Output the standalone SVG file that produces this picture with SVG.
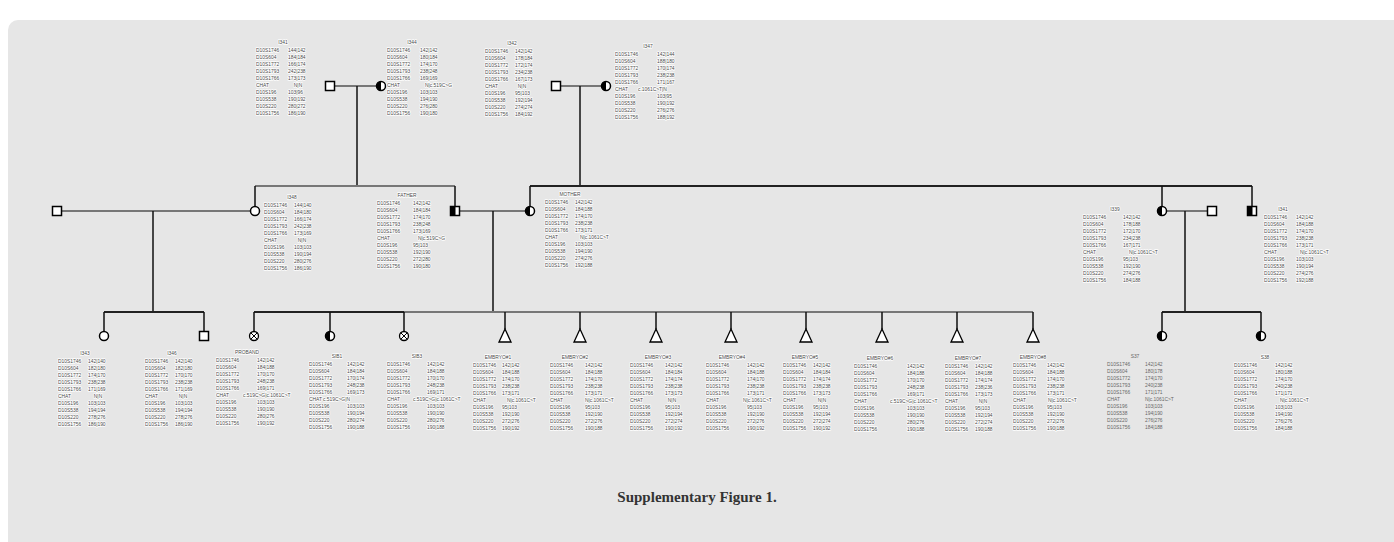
<svg xmlns="http://www.w3.org/2000/svg" xmlns:xlink="http://www.w3.org/1999/xlink" width="1394" height="542" viewBox="0 0 1394 542">
<style>
.t{font-family:"Liberation Sans",Arial,sans-serif;font-size:4.9px;fill:#4a4a4a;stroke:#fff;stroke-width:1.5px;paint-order:stroke;stroke-linejoin:round}
.p{font-family:"Liberation Sans",Arial,sans-serif;font-size:4.9px;fill:#666}
.m{text-anchor:middle}
.mar{stroke:#777;stroke-width:2;fill:none}
.sib{stroke:#222;stroke-width:2;fill:none}
.sibg{stroke:#777;stroke-width:2;fill:none}
.dsc{stroke:#111;stroke-width:1.5;fill:none}
.ttl{font-family:"Liberation Serif","Times New Roman",serif;font-size:15px;font-weight:bold;fill:#333;text-anchor:middle}
</style>
<defs>
<g id="sq"><rect x="-4.5" y="-4.5" width="9" height="9" fill="#fff" stroke="#000" stroke-width="1.5"/></g>
<g id="sqh"><rect x="-4.5" y="-4.5" width="9" height="9" fill="#fff"/><rect x="-4.5" y="-4.5" width="5" height="9" fill="#000"/><rect x="-4.5" y="-4.5" width="9" height="9" fill="none" stroke="#000" stroke-width="1.5"/></g>
<g id="ci"><circle r="4.5" fill="#fff" stroke="#000" stroke-width="1.5"/></g>
<g id="cih"><circle r="4.5" fill="#fff"/><path d="M0,-4.5 A4.5,4.5 0 0 0 0,4.5 Z" fill="#000"/><circle r="4.5" fill="none" stroke="#000" stroke-width="1.5"/></g>
<g id="cix"><circle r="4.5" fill="#fff" stroke="#000" stroke-width="1.3"/><path d="M-3.2,-3.2 L3.2,3.2 M-3.2,3.2 L3.2,-3.2" stroke="#000" stroke-width="1"/></g>
<g id="tri"><polygon points="0,-7 6,6 -6,6" fill="#fff" stroke="#000" stroke-width="1.3"/></g>
<text id="mk" class="t"><tspan x="0" y="8">D10S1746</tspan><tspan x="0" y="15">D10S604</tspan><tspan x="0" y="22">D10S1772</tspan><tspan x="0" y="29">D10S1793</tspan><tspan x="0" y="36">D10S1766</tspan><tspan x="0" y="43">CHAT</tspan><tspan x="0" y="50">D10S196</tspan><tspan x="0" y="57">D10S538</tspan><tspan x="0" y="64">D10S220</tspan><tspan x="0" y="71">D10S1756</tspan></text>
<text id="mkp" class="p"><tspan x="0" y="8">D10S1746</tspan><tspan x="0" y="15">D10S604</tspan><tspan x="0" y="22">D10S1772</tspan><tspan x="0" y="29">D10S1793</tspan><tspan x="0" y="36">D10S1766</tspan><tspan x="0" y="43">CHAT</tspan><tspan x="0" y="50">D10S196</tspan><tspan x="0" y="57">D10S538</tspan><tspan x="0" y="64">D10S220</tspan><tspan x="0" y="71">D10S1756</tspan></text>
</defs>
<rect x="0" y="0" width="1394" height="542" fill="#fff"/>
<rect x="8" y="20" width="1400" height="540" rx="10" fill="#e6e6e6"/>

<g id="connectors">
<path class="mar" d="M334.5,86 H376.5"/>
<path class="dsc" d="M357,86 V186"/>
<path class="mar" d="M560.5,86 H601.5"/>
<path class="dsc" d="M580,86 V186"/>
<path class="sibg" d="M255,186 H455"/>
<path class="dsc" d="M255,186 V206.5 M455,186 V206.5"/>
<path class="sib" d="M530,186 H1252"/>
<path class="dsc" d="M530,186 V206.5 M1162,186 V206.5 M1252,186 V206.5"/>
<path class="mar" d="M61.5,211 H250.5"/>
<path class="dsc" d="M153,211 V312"/>
<path class="sib" d="M104,312 H204"/>
<path class="dsc" d="M104,312 V331.5 M204,312 V331.5"/>
<path class="mar" d="M459.5,211 H525.5"/>
<path class="dsc" d="M493,211 V312"/>
<path class="sib" d="M254,312 H404"/>
<path class="sibg" d="M404,312 H1033"/>
<path class="dsc" d="M254,312 V331.5 M330,312 V331.5 M404,312 V331.5"/>
<path class="dsc" d="M505,312 V329 M580,312 V329 M656,312 V329 M731,312 V329 M806,312 V329 M882,312 V329 M957,312 V329 M1033,312 V329"/>
<path class="mar" d="M1166.5,211 H1207.5"/>
<path class="dsc" d="M1185,211 V312"/>
<path class="sib" d="M1162,312 H1261"/>
<path class="dsc" d="M1162,312 V331.5 M1261,312 V331.5"/>
</g>

<g id="n-I341"><use href="#sq" x="330" y="86"/>
<g transform="translate(256,43.5)"><text class="t m" x="27">I341</text><use href="#mk"/>
<text class="t"><tspan x="32" y="8">144|142</tspan><tspan x="32" y="15">184|184</tspan><tspan x="32" y="22">166|174</tspan><tspan x="32" y="29">242|238</tspan><tspan x="32" y="36">173|173</tspan><tspan x="32" y="50">103|96</tspan><tspan x="32" y="57">190|192</tspan><tspan x="32" y="64">280|272</tspan><tspan x="32" y="71">186|190</tspan></text>
<text class="t m" x="42" y="43">N|N</text></g></g>

<g id="n-I344"><use href="#cih" x="381" y="86"/>
<g transform="translate(387,43.5)"><text class="t m" x="25">I344</text><use href="#mk"/>
<text class="t"><tspan x="33" y="8">142|142</tspan><tspan x="33" y="15">180|184</tspan><tspan x="33" y="22">174|170</tspan><tspan x="33" y="29">238|248</tspan><tspan x="33" y="36">169|169</tspan><tspan x="33" y="50">103|103</tspan><tspan x="33" y="57">194|190</tspan><tspan x="33" y="64">276|280</tspan><tspan x="33" y="71">190|180</tspan></text>
<text class="t" x="38" y="43">N|c.519C&gt;G</text></g></g>

<g id="n-I342"><use href="#sq" x="556" y="86"/>
<g transform="translate(485,45)"><text class="t m" x="27">I342</text><use href="#mk"/>
<text class="t"><tspan x="30" y="8">142|142</tspan><tspan x="30" y="15">178|184</tspan><tspan x="30" y="22">172|174</tspan><tspan x="30" y="29">234|238</tspan><tspan x="30" y="36">167|173</tspan><tspan x="30" y="50">95|103</tspan><tspan x="30" y="57">192|194</tspan><tspan x="30" y="64">274|274</tspan><tspan x="30" y="71">184|192</tspan></text>
<text class="t m" x="37" y="43">N|N</text></g></g>

<g id="n-I347"><use href="#cih" x="606" y="86"/>
<g transform="translate(615,48)"><text class="t m" x="33">I347</text><use href="#mk"/>
<text class="t"><tspan x="42" y="8">142|144</tspan><tspan x="42" y="15">188|180</tspan><tspan x="42" y="22">170|174</tspan><tspan x="42" y="29">238|238</tspan><tspan x="42" y="36">171|167</tspan><tspan x="42" y="50">103|95</tspan><tspan x="42" y="57">190|192</tspan><tspan x="42" y="64">276|276</tspan><tspan x="42" y="71">188|192</tspan></text>
<text class="t" x="23" y="43">c.1061C&gt;T|N</text></g></g>

<g id="n-spouse1"><use href="#sq" x="57" y="211"/></g>

<g id="n-I348"><use href="#ci" x="255" y="211"/>
<g transform="translate(264,198.5)"><text class="t m" x="28">I348</text><use href="#mk"/>
<text class="t"><tspan x="30" y="8">144|140</tspan><tspan x="30" y="15">184|180</tspan><tspan x="30" y="22">166|174</tspan><tspan x="30" y="29">242|238</tspan><tspan x="30" y="36">173|169</tspan><tspan x="30" y="50">103|103</tspan><tspan x="30" y="57">190|194</tspan><tspan x="30" y="64">280|276</tspan><tspan x="30" y="71">186|190</tspan></text>
<text class="t m" x="38" y="43">N|N</text></g></g>

<g id="n-FATHER"><use href="#sqh" x="455" y="211"/>
<g transform="translate(377,196.5)"><text class="t m" x="30">FATHER</text><use href="#mk"/>
<text class="t"><tspan x="36" y="8">142|142</tspan><tspan x="36" y="15">184|184</tspan><tspan x="36" y="22">174|170</tspan><tspan x="36" y="29">238|248</tspan><tspan x="36" y="36">173|169</tspan><tspan x="36" y="50">95|103</tspan><tspan x="36" y="57">192|190</tspan><tspan x="36" y="64">272|280</tspan><tspan x="36" y="71">190|180</tspan></text>
<text class="t" x="41" y="43">N|c.519C&gt;G</text></g></g>

<g id="n-MOTHER"><use href="#cih" x="530" y="211"/>
<g transform="translate(545,195.5)"><text class="t m" x="25">MOTHER</text><use href="#mk"/>
<text class="t"><tspan x="30" y="8">142|142</tspan><tspan x="30" y="15">184|188</tspan><tspan x="30" y="22">174|170</tspan><tspan x="30" y="29">238|238</tspan><tspan x="30" y="36">173|171</tspan><tspan x="30" y="50">103|103</tspan><tspan x="30" y="57">194|190</tspan><tspan x="30" y="64">274|276</tspan><tspan x="30" y="71">192|188</tspan></text>
<text class="t" x="35" y="43">N|c.1061C&gt;T</text></g></g>

<g id="n-I339"><use href="#cih" x="1162" y="211"/>
<g transform="translate(1083,210.5)"><text class="t m" x="32">I339</text><use href="#mk"/>
<text class="t"><tspan x="40" y="8">142|142</tspan><tspan x="40" y="15">178|188</tspan><tspan x="40" y="22">172|170</tspan><tspan x="40" y="29">234|238</tspan><tspan x="40" y="36">167|171</tspan><tspan x="40" y="50">95|103</tspan><tspan x="40" y="57">192|190</tspan><tspan x="40" y="64">274|276</tspan><tspan x="40" y="71">184|188</tspan></text>
<text class="t" x="46" y="43">N|c.1061C&gt;T</text></g></g>

<g id="n-spouse2"><use href="#sq" x="1212" y="211"/></g>

<g id="n-I341b"><use href="#sqh" x="1252" y="211"/>
<g transform="translate(1264,210.5)"><text class="t m" x="19">I341</text><use href="#mk"/>
<text class="t"><tspan x="32" y="8">142|142</tspan><tspan x="32" y="15">184|188</tspan><tspan x="32" y="22">174|170</tspan><tspan x="32" y="29">238|238</tspan><tspan x="32" y="36">173|171</tspan><tspan x="32" y="50">103|103</tspan><tspan x="32" y="57">190|194</tspan><tspan x="32" y="64">274|276</tspan><tspan x="32" y="71">192|188</tspan></text>
<text class="t" x="36" y="43">N|c.1061C&gt;T</text></g></g>

<g id="n-I343"><use href="#ci" x="104" y="336"/>
<g transform="translate(58,354.5)"><text class="t m" x="27">I343</text><use href="#mk"/>
<text class="t"><tspan x="30" y="8">142|140</tspan><tspan x="30" y="15">182|180</tspan><tspan x="30" y="22">174|170</tspan><tspan x="30" y="29">238|238</tspan><tspan x="30" y="36">171|169</tspan><tspan x="30" y="50">103|103</tspan><tspan x="30" y="57">194|194</tspan><tspan x="30" y="64">278|276</tspan><tspan x="30" y="71">186|190</tspan></text>
<text class="t m" x="40" y="43">N|N</text></g></g>

<g id="n-I346"><use href="#sq" x="204" y="336"/>
<g transform="translate(145,354.5)"><text class="t m" x="27">I346</text><use href="#mk"/>
<text class="t"><tspan x="30" y="8">142|140</tspan><tspan x="30" y="15">182|180</tspan><tspan x="30" y="22">170|170</tspan><tspan x="30" y="29">238|238</tspan><tspan x="30" y="36">171|169</tspan><tspan x="30" y="50">103|103</tspan><tspan x="30" y="57">194|194</tspan><tspan x="30" y="64">278|276</tspan><tspan x="30" y="71">186|190</tspan></text>
<text class="t m" x="38" y="43">N|N</text></g></g>

<g id="n-PROBAND"><use href="#cix" x="254" y="336"/>
<g transform="translate(216,354)"><text class="t m" x="31">PROBAND</text><use href="#mk"/>
<text class="t"><tspan x="41" y="8">142|142</tspan><tspan x="41" y="15">184|188</tspan><tspan x="41" y="22">170|170</tspan><tspan x="41" y="29">248|238</tspan><tspan x="41" y="36">169|171</tspan><tspan x="41" y="50">103|103</tspan><tspan x="41" y="57">190|190</tspan><tspan x="41" y="64">280|276</tspan><tspan x="41" y="71">190|192</tspan></text>
<text class="t" x="27" y="43">c.519C&gt;G|c.1061C&gt;T</text></g></g>

<g id="n-SIB1"><use href="#cih" x="330" y="336"/>
<g transform="translate(309,357.5)"><text class="t m" x="28">SIB1</text><use href="#mk"/>
<text class="t"><tspan x="38" y="8">142|142</tspan><tspan x="38" y="15">184|184</tspan><tspan x="38" y="22">170|174</tspan><tspan x="38" y="29">248|238</tspan><tspan x="38" y="36">169|173</tspan><tspan x="38" y="50">103|103</tspan><tspan x="38" y="57">190|194</tspan><tspan x="38" y="64">280|274</tspan><tspan x="38" y="71">190|188</tspan></text>
<text class="t" x="14" y="43">c.519C&gt;G|N</text></g></g>

<g id="n-SIB3"><use href="#cix" x="404" y="336"/>
<g transform="translate(387,358)"><text class="t m" x="30">SIB3</text><use href="#mk"/>
<text class="t"><tspan x="40" y="8">142|142</tspan><tspan x="40" y="15">184|188</tspan><tspan x="40" y="22">170|170</tspan><tspan x="40" y="29">248|238</tspan><tspan x="40" y="36">169|171</tspan><tspan x="40" y="50">103|103</tspan><tspan x="40" y="57">190|190</tspan><tspan x="40" y="64">280|276</tspan><tspan x="40" y="71">190|188</tspan></text>
<text class="t" x="26" y="43">c.519C&gt;G|c.1061C&gt;T</text></g></g>

<g id="n-E1"><use href="#tri" x="505" y="336"/>
<g transform="translate(473,358.5)"><text class="t m" x="25">EMBRYO#1</text><use href="#mk"/>
<text class="t"><tspan x="29" y="8">142|142</tspan><tspan x="29" y="15">184|188</tspan><tspan x="29" y="22">174|170</tspan><tspan x="29" y="29">238|238</tspan><tspan x="29" y="36">173|171</tspan><tspan x="29" y="50">95|103</tspan><tspan x="29" y="57">192|190</tspan><tspan x="29" y="64">272|276</tspan><tspan x="29" y="71">190|192</tspan></text>
<text class="t" x="34" y="43">N|c.1061C&gt;T</text></g></g>

<g id="n-E2"><use href="#tri" x="580" y="336"/>
<g transform="translate(550,358.5)"><text class="t m" x="25">EMBRYO#2</text><use href="#mk"/>
<text class="t"><tspan x="35" y="8">142|142</tspan><tspan x="35" y="15">184|188</tspan><tspan x="35" y="22">174|170</tspan><tspan x="35" y="29">238|238</tspan><tspan x="35" y="36">173|171</tspan><tspan x="35" y="50">95|103</tspan><tspan x="35" y="57">192|190</tspan><tspan x="35" y="64">272|276</tspan><tspan x="35" y="71">190|188</tspan></text>
<text class="t" x="35" y="43">N|c.1061C&gt;T</text></g></g>

<g id="n-E3"><use href="#tri" x="656" y="336"/>
<g transform="translate(630,358.5)"><text class="t m" x="28">EMBRYO#3</text><use href="#mk"/>
<text class="t"><tspan x="35" y="8">142|142</tspan><tspan x="35" y="15">184|184</tspan><tspan x="35" y="22">174|174</tspan><tspan x="35" y="29">238|238</tspan><tspan x="35" y="36">173|173</tspan><tspan x="35" y="50">95|103</tspan><tspan x="35" y="57">192|194</tspan><tspan x="35" y="64">272|274</tspan><tspan x="35" y="71">190|192</tspan></text>
<text class="t m" x="42" y="43">N|N</text></g></g>

<g id="n-E4"><use href="#tri" x="731" y="336"/>
<g transform="translate(706,358.5)"><text class="t m" x="26">EMBRYO#4</text><use href="#mk"/>
<text class="t"><tspan x="41" y="8">142|142</tspan><tspan x="41" y="15">184|188</tspan><tspan x="41" y="22">174|170</tspan><tspan x="41" y="29">238|238</tspan><tspan x="41" y="36">173|171</tspan><tspan x="41" y="50">95|103</tspan><tspan x="41" y="57">192|190</tspan><tspan x="41" y="64">272|276</tspan><tspan x="41" y="71">190|192</tspan></text>
<text class="t" x="37" y="43">N|c.1061C&gt;T</text></g></g>

<g id="n-E5"><use href="#tri" x="806" y="336"/>
<g transform="translate(783,358.5)"><text class="t m" x="22">EMBRYO#5</text><use href="#mk"/>
<text class="t"><tspan x="30" y="8">142|142</tspan><tspan x="30" y="15">184|184</tspan><tspan x="30" y="22">174|174</tspan><tspan x="30" y="29">238|238</tspan><tspan x="30" y="36">173|173</tspan><tspan x="30" y="50">95|103</tspan><tspan x="30" y="57">192|194</tspan><tspan x="30" y="64">272|274</tspan><tspan x="30" y="71">190|192</tspan></text>
<text class="t m" x="39" y="43">N|N</text></g></g>

<g id="n-E6"><use href="#tri" x="882" y="336"/>
<g transform="translate(854,360)"><text class="t m" x="26">EMBRYO#6</text><use href="#mk"/>
<text class="t"><tspan x="53" y="8">142|142</tspan><tspan x="53" y="15">184|188</tspan><tspan x="53" y="22">170|170</tspan><tspan x="53" y="29">248|238</tspan><tspan x="53" y="36">169|171</tspan><tspan x="53" y="50">103|103</tspan><tspan x="53" y="57">190|190</tspan><tspan x="53" y="64">280|276</tspan><tspan x="53" y="71">190|188</tspan></text>
<text class="t" x="36" y="43">c.519C&gt;G|c.1061C&gt;T</text></g></g>

<g id="n-E7"><use href="#tri" x="957" y="336"/>
<g transform="translate(945,360)"><text class="t m" x="23">EMBRYO#7</text><use href="#mk"/>
<text class="t"><tspan x="30" y="8">142|142</tspan><tspan x="30" y="15">184|188</tspan><tspan x="30" y="22">174|174</tspan><tspan x="30" y="29">238|236</tspan><tspan x="30" y="36">173|173</tspan><tspan x="30" y="50">95|103</tspan><tspan x="30" y="57">192|194</tspan><tspan x="30" y="64">272|274</tspan><tspan x="30" y="71">190|188</tspan></text>
<text class="t m" x="38" y="43">N|N</text></g></g>

<g id="n-E8"><use href="#tri" x="1033" y="336"/>
<g transform="translate(1013,358.5)"><text class="t m" x="20">EMBRYO#8</text><use href="#mk"/>
<text class="t"><tspan x="34" y="8">142|142</tspan><tspan x="34" y="15">184|188</tspan><tspan x="34" y="22">174|170</tspan><tspan x="34" y="29">238|238</tspan><tspan x="34" y="36">173|171</tspan><tspan x="34" y="50">95|103</tspan><tspan x="34" y="57">192|190</tspan><tspan x="34" y="64">272|276</tspan><tspan x="34" y="71">190|188</tspan></text>
<text class="t" x="35" y="43">N|c.1061C&gt;T</text></g></g>

<g id="n-S37"><use href="#cih" x="1162" y="336"/>
<g transform="translate(1107,357.5)"><text class="p m" x="28">S37</text><use href="#mkp"/>
<text class="p"><tspan x="38" y="8">142|142</tspan><tspan x="38" y="15">180|178</tspan><tspan x="38" y="22">174|170</tspan><tspan x="38" y="29">240|238</tspan><tspan x="38" y="36">171|171</tspan><tspan x="38" y="50">103|103</tspan><tspan x="38" y="57">194|190</tspan><tspan x="38" y="64">276|276</tspan><tspan x="38" y="71">184|188</tspan></text>
<text class="p" x="38" y="43">N|c.1061C&gt;T</text></g></g>

<g id="n-S38"><use href="#cih" x="1261" y="336"/>
<g transform="translate(1234,358.5)"><text class="t m" x="31">S38</text><use href="#mk"/>
<text class="t"><tspan x="41" y="8">142|142</tspan><tspan x="41" y="15">180|188</tspan><tspan x="41" y="22">174|170</tspan><tspan x="41" y="29">240|238</tspan><tspan x="41" y="36">171|171</tspan><tspan x="41" y="50">103|103</tspan><tspan x="41" y="57">194|190</tspan><tspan x="41" y="64">276|276</tspan><tspan x="41" y="71">184|188</tspan></text>
<text class="t" x="46" y="43">N|c.1061C&gt;T</text></g></g>

<text class="ttl" x="697" y="502">Supplementary Figure 1.</text>
</svg>
